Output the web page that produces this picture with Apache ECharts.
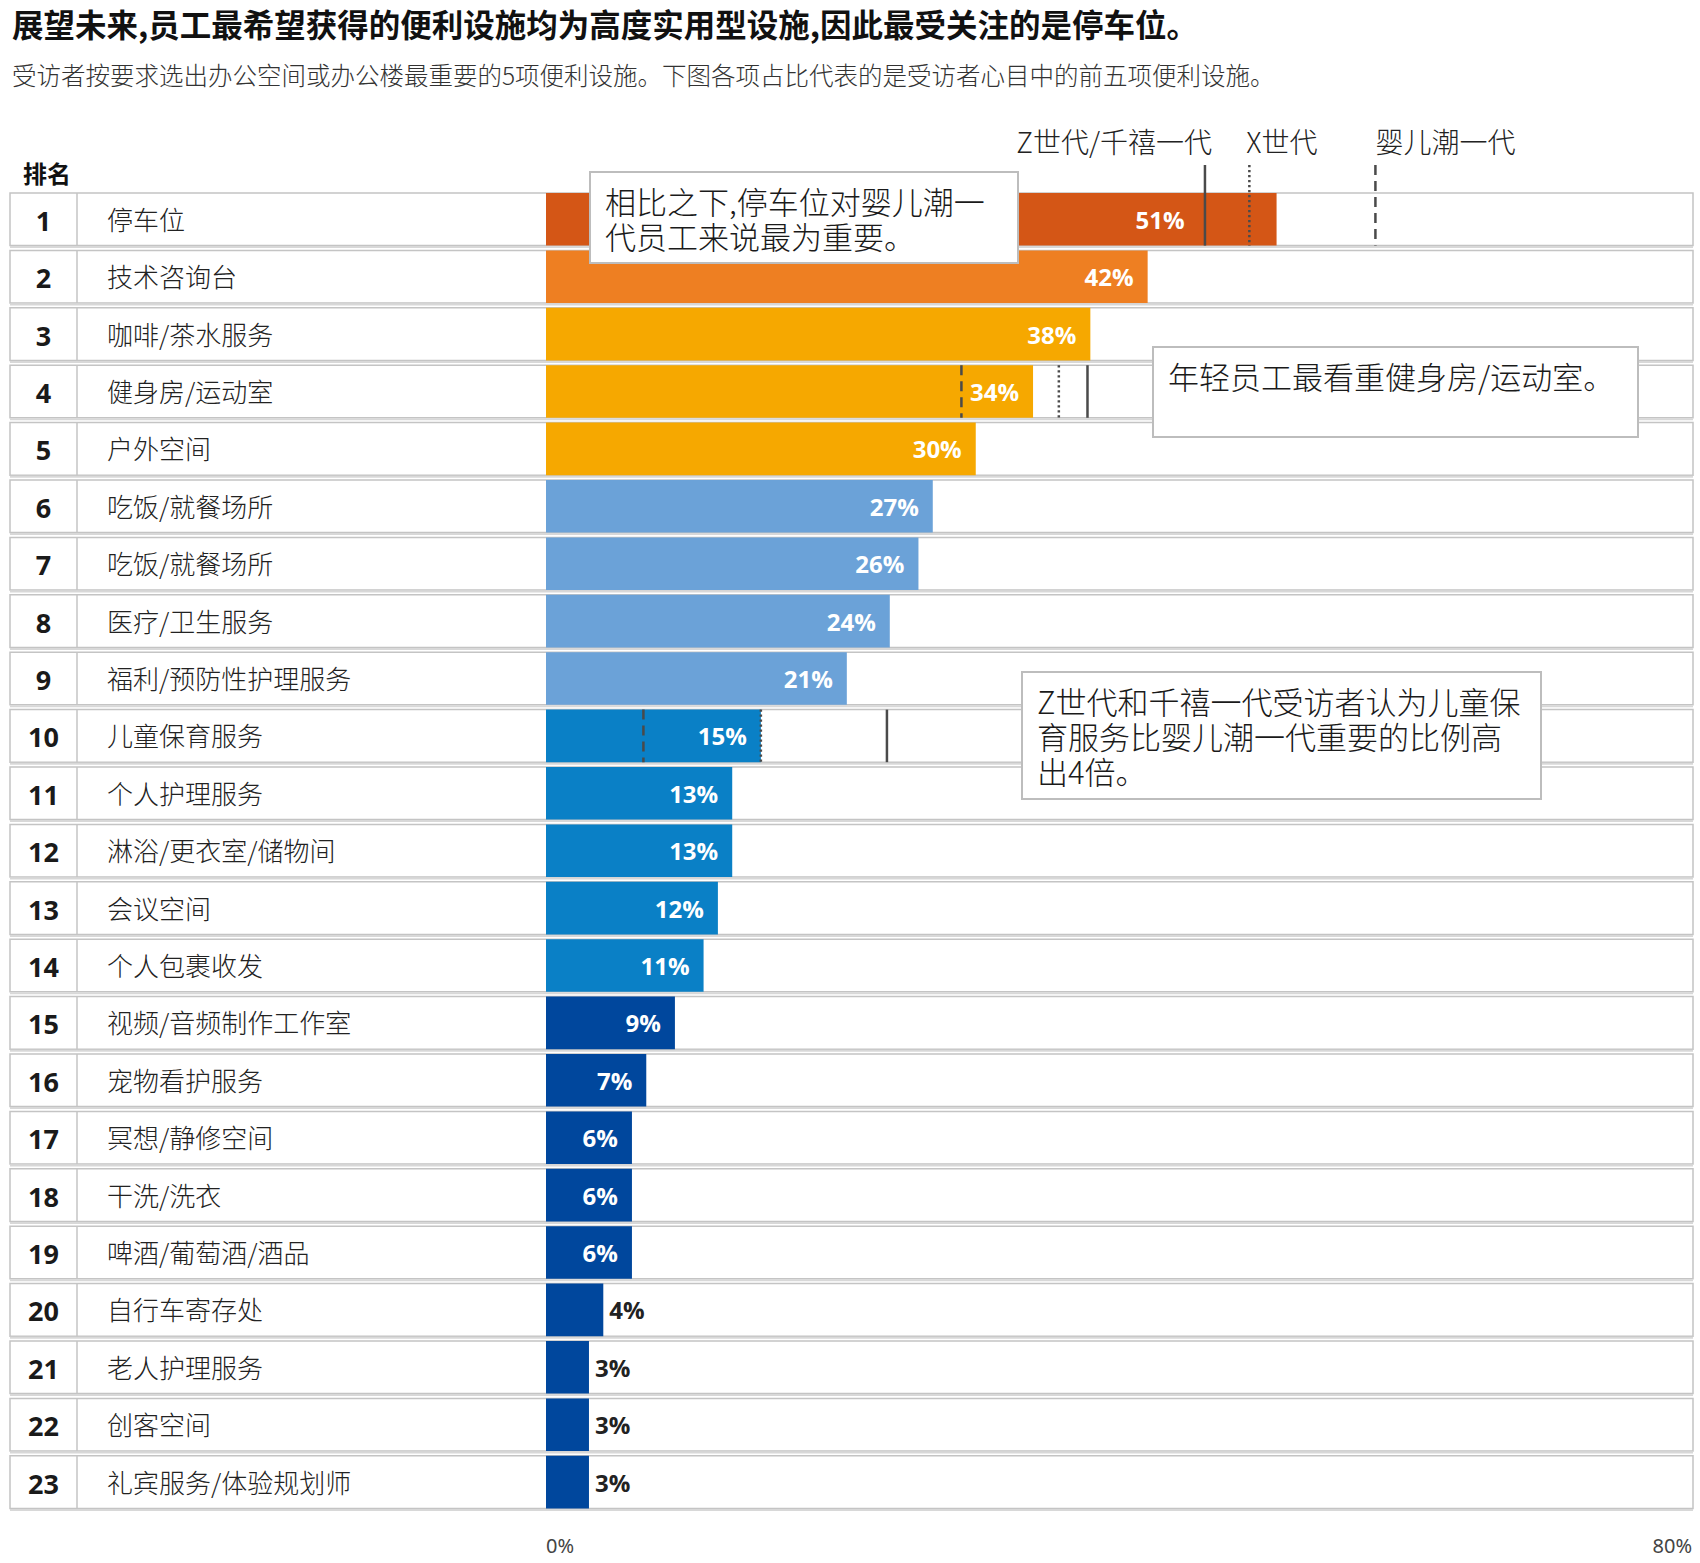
<!DOCTYPE html>
<html>
<head>
<meta charset="utf-8">
<title>便利设施排名</title>
<script src="https://cdn.jsdelivr.net/npm/echarts@6.0.0/dist/echarts.min.js"></script>
<style>
  html, body { margin: 0; padding: 0; background: #fff; }
  #chart { width: 1700px; height: 1563px; }
</style>
</head>
<body>
<div id="chart"></div>
<script>
// 排名、设施名称、占比(%)
const ranks = ['1', '2', '3', '4', '5', '6', '7', '8', '9', '10', '11', '12',
  '13', '14', '15', '16', '17', '18', '19', '20', '21', '22', '23'];
const amenities = ['停车位', '技术咨询台', '咖啡/茶水服务', '健身房/运动室', '户外空间',
  '吃饭/就餐场所', '吃饭/就餐场所', '医疗/卫生服务', '福利/预防性护理服务', '儿童保育服务',
  '个人护理服务', '淋浴/更衣室/储物间', '会议空间', '个人包裹收发', '视频/音频制作工作室',
  '宠物看护服务', '冥想/静修空间', '干洗/洗衣', '啤酒/葡萄酒/酒品', '自行车寄存处',
  '老人护理服务', '创客空间', '礼宾服务/体验规划师'];
const shares = [51, 42, 38, 34, 30, 27, 26, 24, 21, 15, 13, 13, 12, 11, 9, 7, 6, 6, 6, 4, 3, 3, 3];

// 分世代的对比线(只标了三项)
const markerRows = ['停车位', '健身房/运动室', '儿童保育服务'];
const genZMillennial = [46, 37.8, 23.8];
const genX = [49.1, 35.8, 15];
const babyBoomer = [57.9, 29, 6.8];
const genNames = ['Z世代/千禧一代', 'X世代', '婴儿潮一代'];

const axisMin = 0;
const axisMax = 80;

const GAP = 0.084;
const CJK = '"Noto Sans CJK SC", "Noto Sans", sans-serif';
const NUM = '"Open Sans", "Noto Sans", sans-serif';

function barColor(i) {
  const r = i + 1;
  if (r === 1) return '#D45616';
  if (r === 2) return '#EE7F22';
  if (r <= 5) return '#F6A800';
  if (r <= 9) return '#6BA2D8';
  if (r <= 14) return '#0A80C6';
  return '#00479D';
}

const chart = echarts.init(document.getElementById('chart'), null, { renderer: 'svg' });

// 每一行的白底框 + 排名 + 名称
function renderRow(params, api) {
  const i = api.value(1);
  const left = api.coord([axisMin, i]);
  const right = api.coord([axisMax, i]);
  const rowH = api.size([0, 1])[1] * (1 - GAP);
  const y0 = left[1] - rowH / 2;
  const x0 = 10, x1 = right[0] + 1;
  return {
    type: 'group',
    children: [
      { type: 'rect', shape: { x: x0, y: y0, width: x1 - x0, height: rowH },
        style: { fill: '#fff', stroke: '#c4c4c4', lineWidth: 1.5 } },
      { type: 'line', shape: { x1: x0, y1: y0 + rowH + 1.5, x2: x1, y2: y0 + rowH + 1.5 },
        style: { stroke: '#d8d8d8', lineWidth: 2 } },
      { type: 'line', shape: { x1: 77, y1: y0, x2: 77, y2: y0 + rowH },
        style: { stroke: '#c4c4c4', lineWidth: 1.5 } },
      { type: 'text', style: { text: ranks[i], x: 43.5, y: left[1] + 1, align: 'center',
        verticalAlign: 'middle', font: 'bold 27px ' + NUM, fill: '#1a1a1a' } },
      { type: 'text', style: { text: amenities[i], x: 107, y: left[1] - 1, align: 'left',
        verticalAlign: 'middle', font: '300 26px ' + CJK, fill: '#222' } }
    ]
  };
}

// 三条世代线，第一行的线往上伸出并带图例文字
function renderMarkers(params, api) {
  const i = api.value(0);
  const yc = api.coord([0, i])[1];
  const rowH = api.size([0, 1])[1] * (1 - GAP);
  const first = params.dataIndex === 0;
  const rowTop = yc - rowH / 2;
  const top = first ? rowTop - 28 : rowTop;
  const bottom = yc + rowH / 2;
  const xs = [1, 2, 3].map(d => api.coord([api.value(d), i])[0]);
  const dashes = [null, [2.2, 2.8], [10, 6]];
  const children = xs.map((x, k) => ({
    type: 'line',
    shape: { x1: x, y1: top, x2: x, y2: bottom },
    style: { stroke: '#4a4a4a', lineWidth: 2.5, lineDash: dashes[k] }
  }));
  if (first) {
    const ty = rowTop - 52;
    const f = '300 28px ' + CJK;
    children.push(
      { type: 'text', style: { text: genNames[0], x: xs[0] + 7, y: ty, align: 'right',
        verticalAlign: 'middle', font: f, fill: '#222' } },
      { type: 'text', style: { text: genNames[1], x: xs[1] - 3, y: ty, align: 'left',
        verticalAlign: 'middle', font: f, fill: '#222' } },
      { type: 'text', style: { text: genNames[2], x: xs[2], y: ty, align: 'left',
        verticalAlign: 'middle', font: f, fill: '#222' } }
    );
  }
  return { type: 'group', children };
}

function noteBox(x, y, w, h, text) {
  return {
    type: 'group',
    z: 100,
    children: [
      { type: 'rect', z: 100, shape: { x, y, width: w, height: h },
        style: { fill: '#fff', stroke: '#bdbdbd', lineWidth: 2 } },
      { type: 'text', z: 101, x: x + 15, y: y + 11,
        style: { text, font: '300 31px ' + CJK, lineHeight: 35, fill: '#1a1a1a' } }
    ]
  };
}

const option = {
  animation: false,
  backgroundColor: '#fff',
  title: {
    left: 12,
    top: 5,
    padding: 0,
    text: '展望未来,员工最希望获得的便利设施均为高度实用型设施,因此最受关注的是停车位。',
    textStyle: { fontFamily: 'Noto Sans CJK SC', fontSize: 31.5, fontWeight: 'bold', color: '#111', lineHeight: 36 },
    subtext: '受访者按要求选出办公空间或办公楼最重要的5项便利设施。下图各项占比代表的是受访者心目中的前五项便利设施。',
    subtextStyle: { fontFamily: 'Noto Sans CJK SC', fontSize: 24.5, fontWeight: 300, color: '#333', lineHeight: 30 },
    itemGap: 18
  },
  grid: { left: 546, right: 8, top: 190.6, bottom: 52.2 },
  xAxis: {
    type: 'value',
    min: axisMin,
    max: axisMax,
    interval: axisMax - axisMin,
    axisLine: { show: false },
    axisTick: { show: false },
    splitLine: { show: false },
    axisLabel: {
      formatter: '{value}%',
      fontFamily: 'Noto Sans',
      fontSize: 20,
      color: '#444',
      margin: 25,
      alignMinLabel: 'left',
      alignMaxLabel: 'right'
    }
  },
  yAxis: {
    type: 'category',
    data: ranks,
    inverse: true,
    axisLine: { show: false },
    axisTick: { show: false },
    axisLabel: { show: false },
    splitLine: { show: false }
  },
  graphic: [
    { type: 'text', x: 23, y: 172, style: { text: '排名', font: 'bold 24px ' + CJK, fill: '#111', verticalAlign: 'middle' } },
    noteBox(590, 172, 428, 91, '相比之下,停车位对婴儿潮一\n代员工来说最为重要。'),
    noteBox(1153, 347, 485, 90, '年轻员工最看重健身房/运动室。'),
    noteBox(1022, 672, 519, 127, 'Z世代和千禧一代受访者认为儿童保\n育服务比婴儿潮一代重要的比例高\n出4倍。')
  ],
  series: [
    {
      type: 'custom',
      z: 1,
      silent: true,
      renderItem: renderRow,
      encode: { x: 0, y: 1 },
      data: ranks.map((r, i) => [axisMin, i])
    },
    {
      type: 'bar',
      z: 2,
      barCategoryGap: (GAP * 100) + '%',
      data: shares.map((v, i) => {
        const small = v < 5;
        const label = small
          ? { position: 'right', distance: 6, color: '#222' }
          : { position: 'insideRight', distance: 14, color: '#fff' };
        // 第一行的数值要避开世代线
        if (i === 0) label.distance = 92;
        return { value: v, itemStyle: { color: barColor(i) }, label };
      }),
      label: {
        show: true,
        formatter: '{c}%',
        fontFamily: 'Open Sans',
        fontWeight: 'bold',
        fontSize: 24
      }
    },
    {
      type: 'custom',
      z: 3,
      silent: true,
      renderItem: renderMarkers,
      encode: { y: 0, x: [1, 2, 3] },
      data: markerRows.map((name, k) => [amenities.indexOf(name), genZMillennial[k], genX[k], babyBoomer[k]])
    }
  ]
};

chart.setOption(option);
window.onresize = function () {
  chart.resize();
};
</script>
</body>
</html>
